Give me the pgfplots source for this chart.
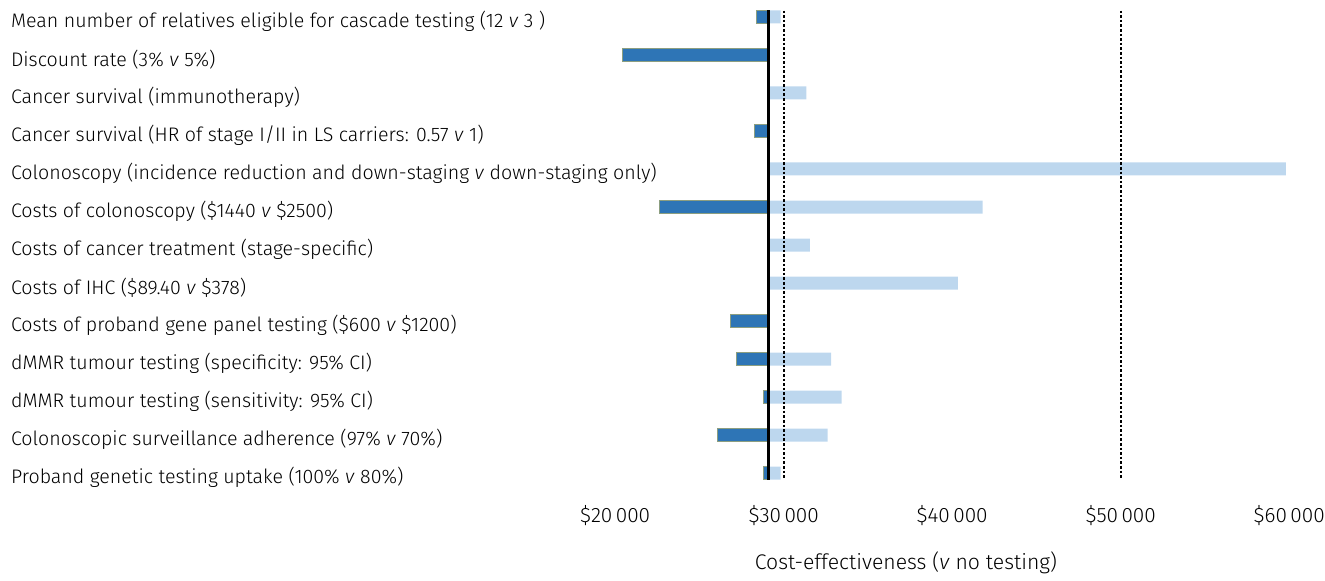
\documentclass[border=0pt]{standalone}
\usepackage{fontspec}
\setmainfont{Fira Sans Light}
\usepackage{pgfplots}
\pgfplotsset{compat=1.18}
\usepackage{pgfplotstable}

\definecolor{darkbar}{HTML}{2E75B6}
\definecolor{lightbar}{HTML}{BDD7EE}
\definecolor{darkedge}{HTML}{8C9E80}

\def\base{29090}
\pgfplotstableread{
row low high
0 28400 29820
1 20420 29090
2 29090 31340
3 28250 29090
4 29090 59800
5 22600 41800
6 29090 31560
7 29090 40330
8 26860 29090
9 27190 32820
10 28790 33440
11 26060 32610
12 28790 29820
}\sens

\pgfplotsset{
  common/.style={
    scale only axis, width=662.5pt, height=245pt,
    xmin=-16511, xmax=62125, ymin=-0.447, ymax=12.447, y dir=reverse,
    clip=false,
  }
}

\begin{document}
\begin{tikzpicture}
\begin{axis}[
  common,
  xbar stacked, bar width=6.5pt,
  axis line style={draw=none}, major tick length=0pt, tick style={draw=none},
  scaled x ticks=false,
  xtick={20000,30000,40000,50000,60000},
  xticklabels={\$20\,000,\$30\,000,\$40\,000,\$50\,000,\$60\,000},
  xticklabel style={yshift=-4pt, inner xsep=0pt, font=\fontsize{10.4}{12}\selectfont},
  ytick={0,...,12},
  yticklabels={
    {Mean number of relatives eligible for cascade testing (12 \textit{v} 3 )},
    {Discount rate (3\% \textit{v} 5\%)},
    {Cancer survival (immunotherapy)},
    {Cancer survival (HR of stage I/II in LS carriers: 0.57 \textit{v} 1)},
    {Colonoscopy (incidence reduction and down-staging \textit{v} down-staging only)},
    {Costs of colonoscopy (\$1440 \textit{v} \$2500)},
    {Costs of cancer treatment (stage-specific)},
    {Costs of IHC (\$89.40 \textit{v} \$378)},
    {Costs of proband gene panel testing (\$600 \textit{v} \$1200)},
    {dMMR tumour testing (specificity: 95\% CI)},
    {dMMR tumour testing (sensitivity: 95\% CI)},
    {Colonoscopic surveillance adherence (97\% \textit{v} 70\%)},
    {Proband genetic testing uptake (100\% \textit{v} 80\%)}
  },
  yticklabel style={anchor=west, xshift=2pt, yshift=-2.3pt, font=\fontsize{9.8}{11}\selectfont},
]
\addplot[draw=none, fill=none] table[y=row, x=low] {\sens};
\addplot[fill=darkbar, draw=darkedge, line width=0.4pt] table[y=row, x expr=\base-\thisrow{low}] {\sens};
\addplot[fill=lightbar, draw=none] table[y=row, x expr=\thisrow{high}-\base] {\sens};
\node[anchor=base, font=\fontsize{10.6}{12}\selectfont] at (axis cs:37258,14.53) {Cost-effectiveness (\textit{v} no testing)};
\path (axis cs:-16511,-0.447) rectangle (axis cs:62125,14.632);
\end{axis}
\begin{axis}[common, hide axis]
\addplot[black, line width=1.5pt] coordinates {(\base,-0.18) (\base,12.18)};
\addplot[black, line width=0.9pt, dash pattern=on 1.3pt off 1pt] coordinates {(30000,-0.17) (30000,12.17)};
\addplot[black, line width=0.9pt, dash pattern=on 1.3pt off 1pt] coordinates {(50000,-0.17) (50000,12.17)};
\end{axis}
\end{tikzpicture}
\end{document}
